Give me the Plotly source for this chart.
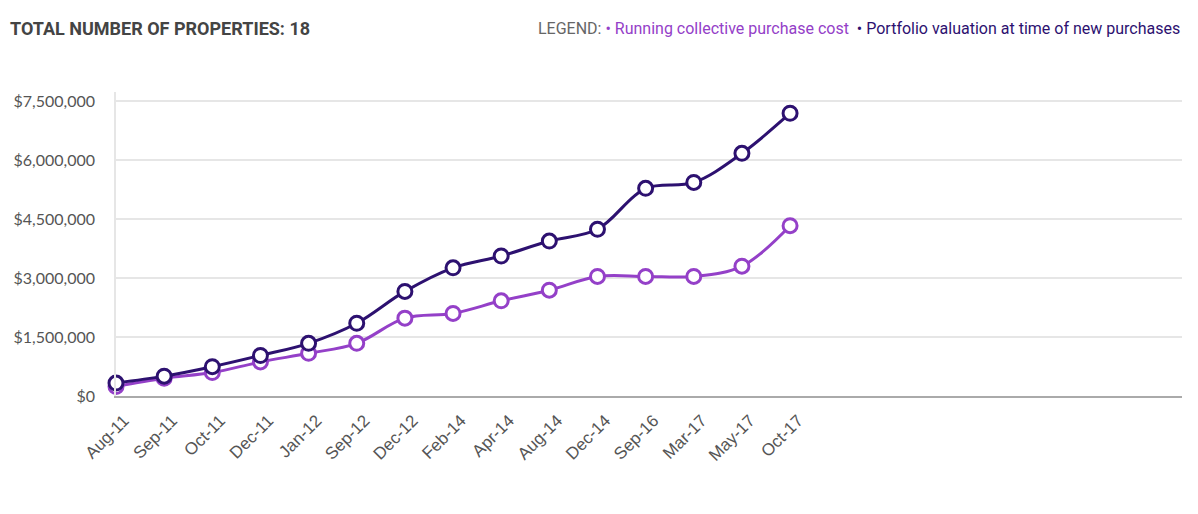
import plotly.graph_objects as go

categories = ["Aug-11", "Sep-11", "Oct-11", "Dec-11", "Jan-12", "Sep-12", "Dec-12",
              "Feb-14", "Apr-14", "Aug-14", "Dec-14", "Sep-16", "Mar-17", "May-17", "Oct-17"]
purchase_cost = [240000, 450000, 595000, 865000, 1085000, 1340000, 1980000,
                 2100000, 2420000, 2690000, 3040000, 3040000, 3040000, 3300000, 4330000]
valuation = [330000, 505000, 745000, 1030000, 1340000, 1850000, 2660000,
             3260000, 3560000, 3940000, 4240000, 5280000, 5430000, 6170000, 7190000]
y_ticks = [0, 1500000, 3000000, 4500000, 6000000, 7500000]
y_tick_labels = ["$0", "$1,500,000", "$3,000,000", "$4,500,000", "$6,000,000", "$7,500,000"]

PURPLE = "#9440C8"
DARK = "#2D1170"

x_idx = list(range(len(categories)))

# page body has an 8px margin: figure occupies 1190x506 starting at (8,8)
W, H = 1190, 506
ML, MR, MT, MB = 108, 16, 84, 118
PH = H - MT - MB

fig = go.Figure()
for name, vals, col in [("Running collective purchase cost", purchase_cost, PURPLE),
                        ("Portfolio valuation at time of new purchases", valuation, DARK)]:
    fig.add_trace(go.Scatter(
        x=x_idx, y=vals, name=name, mode="lines+markers",
        line=dict(color=col, width=3, shape="spline", smoothing=1),
        marker=dict(size=14, color="white", line=dict(color=col, width=3)),
        cliponaxis=False, showlegend=False,
    ))

title_y = 1 + (MT - 20) / PH

fig.update_layout(
    width=W, height=H,
    margin=dict(l=ML, r=MR, t=MT, b=MB, autoexpand=False),
    paper_bgcolor="white", plot_bgcolor="white",
    xaxis=dict(
        range=[0, 22.14], tickmode="array", tickvals=x_idx, ticktext=categories,
        tickangle=-45, showgrid=False, zeroline=False,
        showline=True, linecolor="#aaaaaa", linewidth=2,
        tickfont=dict(family="Liberation Sans, Arial", size=17, color="#555555"),
        ticks="", automargin=False, ticklabelshift=8, ticklabelstandoff=6,
    ),
    yaxis=dict(
        range=[0, 7730000], tickmode="array", tickvals=y_ticks, ticktext=y_tick_labels,
        showgrid=True, gridcolor="#e6e6e6", gridwidth=1.5, zeroline=False,
        showline=True, linecolor="#e6e6e6", linewidth=1.5,
        tickfont=dict(family="Lato", size=16, color="#555555"),
        ticks="outside", ticklen=16, tickcolor="rgba(0,0,0,0)", automargin=False,
    ),
    annotations=[
        dict(text="<b>TOTAL NUMBER OF PROPERTIES: 18</b>", xref="paper", yref="paper",
             x=0 - ML / (W - ML - MR), y=title_y, xanchor="left", yanchor="middle",
             showarrow=False, font=dict(family="Roboto", size=18, color="#444444")),
        dict(text=("<span style='color:#666666'>LEGEND: </span>"
                   f"<span style='color:{PURPLE}'>• Running collective purchase cost</span>  "
                   f"<span style='color:{DARK}'>• Portfolio valuation at time of new purchases</span>"),
             xref="paper", yref="paper", x=1.0, y=title_y,
             xanchor="right", yanchor="middle", showarrow=False,
             font=dict(family="Roboto", size=16)),
    ],
)

fig.write_html("out.html")
